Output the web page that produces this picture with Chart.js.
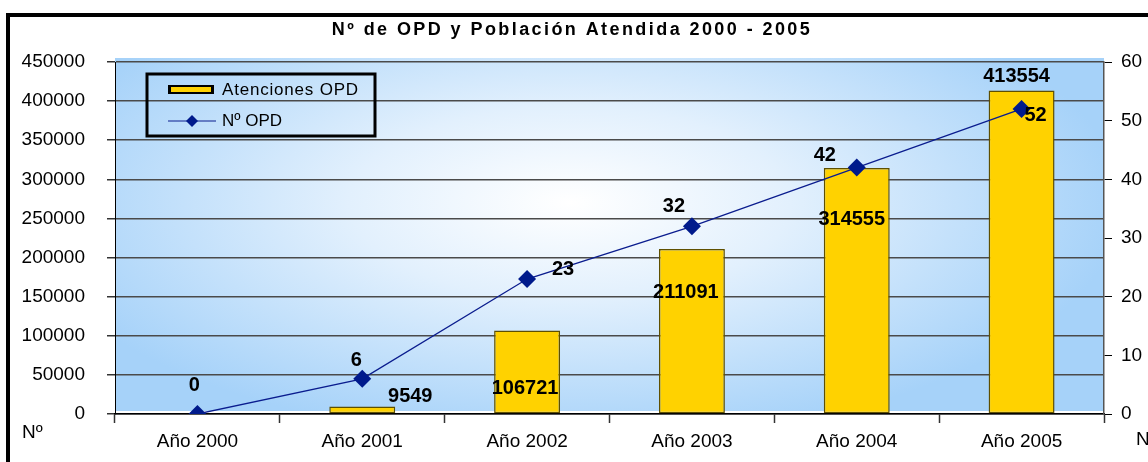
<!DOCTYPE html>
<html>
<head>
<meta charset="utf-8">
<script src="https://cdn.jsdelivr.net/npm/chart.js@4.4.1/dist/chart.umd.min.js"></script>
<style>
  html, body { margin: 0; padding: 0; background: #fff; }
  #wrap { position: absolute; left: 0; top: 0; width: 1148px; height: 462px; }
</style>
</head>
<body>
<div id="wrap"><canvas id="grafico_opd" width="1148" height="462"></canvas></div>
<script>
// Datos del gráfico
const anos = ['Año 2000', 'Año 2001', 'Año 2002', 'Año 2003', 'Año 2004', 'Año 2005'];
const atenciones = [0, 9549, 106721, 211091, 314555, 413554];
const numOpd = [0, 6, 23, 32, 42, 52];
const ticksIzq = [0, 50000, 100000, 150000, 200000, 250000, 300000, 350000, 400000, 450000];
const ticksDer = [0, 10, 20, 30, 40, 50, 60];

// desplazamiento de las etiquetas respecto a cada marca (en px)
const etqBarras = [null, [48, -10], [-2, 58], [-6, 44], [-5, 52], [-5, -14]];
const etqLinea = [[-3, -29], [-6, -18], [36, -10], [-18, -20], [-32, -12], [14, 7]];

const FUENTE = '"Liberation Sans", Arial, sans-serif';

// Fondo del área de trazado (degradado azul) y marco
const fondoPlugin = {
    id: 'fondo',
    beforeDraw(chart) {
        const { ctx, chartArea: a } = chart;
        ctx.save();
        ctx.fillStyle = '#fff';
        ctx.fillRect(0, 0, chart.width, chart.height);
        const cx = a.left + (a.right - a.left) * 0.46;
        const cy = a.top + (a.bottom - a.top) * 0.40;
        ctx.translate(cx, cy);
        ctx.scale(2.3, 1);
        const g = ctx.createRadialGradient(0, 0, 0, 0, 0, 240);
        g.addColorStop(0, '#ffffff');
        g.addColorStop(0.4, '#e2f0fd');
        g.addColorStop(1, '#a6d2f9');
        ctx.fillStyle = g;
        // deja una franja blanca fina sobre el eje horizontal
        ctx.fillRect((a.left - cx) / 2.3, a.top - 4 - cy, (a.right - a.left) / 2.3, a.bottom - a.top + 1);
        ctx.restore();

        // marco negro
        ctx.save();
        ctx.fillStyle = '#000';
        ctx.fillRect(6, 13, 4, chart.height - 13);
        ctx.fillRect(6, 13, chart.width - 6, 4);
        ctx.restore();
    },
    afterDraw(chart) {
        const { ctx } = chart;
        ctx.save();
        // título
        ctx.fillStyle = '#000';
        ctx.font = 'bold 18px ' + FUENTE;
        ctx.textAlign = 'center';
        ctx.textBaseline = 'middle';
        const titulo = 'Nº de OPD y Población Atendida 2000 - 2005';
        const w = ctx.measureText(titulo).width;
        ctx.letterSpacing = Math.max(0, (478 - w) / (titulo.length - 1)) + 'px';
        ctx.fillText(titulo, 572, 30);
        ctx.letterSpacing = '0px';

        // textos "Nº" de los ejes
        ctx.font = '19px ' + FUENTE;
        ctx.textAlign = 'left';
        ctx.fillText('Nº', 22, 433);
        ctx.fillText('Nº', 1136, 440);

        // leyenda
        const bx = 147, by = 74, bw = 228, bh = 62;
        ctx.strokeStyle = '#000';
        ctx.lineWidth = 3;
        ctx.strokeRect(bx, by, bw, bh);
        const dsB = chart.data.datasets[0];
        const dsL = chart.data.datasets[1];
        ctx.fillStyle = '#000';
        ctx.fillRect(168, 85, 46, 9);
        ctx.fillStyle = dsB.backgroundColor;
        ctx.fillRect(171, 87, 40, 5);
        ctx.strokeStyle = dsL.borderColor;
        ctx.lineWidth = 1;
        ctx.beginPath();
        ctx.moveTo(168, 121);
        ctx.lineTo(216, 121);
        ctx.stroke();
        ctx.fillStyle = dsL.pointBackgroundColor;
        ctx.beginPath();
        ctx.moveTo(192, 115);
        ctx.lineTo(198, 121);
        ctx.lineTo(192, 127);
        ctx.lineTo(186, 121);
        ctx.closePath();
        ctx.fill();
        ctx.fillStyle = '#000';
        ctx.font = '17px ' + FUENTE;
        ctx.textBaseline = 'middle';
        ctx.letterSpacing = '0.8px';
        ctx.fillText(dsB.label, 222, 90);
        ctx.letterSpacing = '0px';
        ctx.fillText(dsL.label, 222, 121);
        ctx.restore();
    }
};

// Etiquetas de datos
const etiquetasPlugin = {
    id: 'etiquetas',
    afterDatasetsDraw(chart) {
        const { ctx } = chart;
        ctx.save();
        ctx.fillStyle = '#000';
        ctx.font = 'bold 20px ' + FUENTE;
        ctx.textAlign = 'center';
        ctx.textBaseline = 'middle';
        chart.getDatasetMeta(0).data.forEach((el, i) => {
            const o = etqBarras[i];
            if (!o) return;
            ctx.fillText(String(atenciones[i]), el.x + o[0], el.y + o[1]);
        });
        chart.getDatasetMeta(1).data.forEach((el, i) => {
            const o = etqLinea[i];
            ctx.fillText(String(numOpd[i]), el.x + o[0], el.y + o[1]);
        });
        ctx.restore();
    }
};

const ctx = document.getElementById('grafico_opd').getContext('2d');

new Chart(ctx, {
    type: 'bar',
    data: {
        labels: anos,
        datasets: [{
            label: 'Atenciones OPD',
            data: atenciones,
            backgroundColor: '#ffd200',
            borderColor: '#5e4f00',
            borderWidth: 1.5,
            borderSkipped: false,
            categoryPercentage: 1,
            barPercentage: 0.4,
            yAxisID: 'y',
            order: 2
        }, {
            type: 'line',
            label: 'Nº OPD',
            data: numOpd,
            borderColor: '#0a1c8e',
            borderWidth: 1.3,
            pointStyle: 'rectRot',
            pointRadius: 9,
            pointBackgroundColor: '#001a8c',
            pointBorderColor: '#001a8c',
            pointBorderWidth: 0,
            tension: 0,
            yAxisID: 'y1',
            order: 1
        }]
    },
    options: {
        responsive: false,
        animation: false,
        layout: { padding: { top: 62, left: 0, right: 0, bottom: 0 } },
        plugins: {
            legend: { display: false },
            title: { display: false },
            tooltip: { enabled: false }
        },
        scales: {
            x: {
                offset: true,
                grid: { offset: true, drawOnChartArea: false, tickLength: 9, color: '#333', tickWidth: 1.5 },
                border: { color: '#000', width: 1.5 },
                ticks: { color: '#000', font: { family: FUENTE, size: 19 }, padding: 7, maxRotation: 0, autoSkip: false },
                afterFit(s) { s.height = 48; }
            },
            y: {
                position: 'left',
                min: 0,
                max: 450000,
                afterBuildTicks(s) { s.ticks = ticksIzq.map(v => ({ value: v })); },
                grid: { color: '#4a4a4a', lineWidth: 1.5, tickLength: 8, tickColor: '#333' },
                border: { color: '#000', width: 1 },
                ticks: { color: '#000', font: { family: FUENTE, size: 19 }, padding: 22, autoSkip: false, callback: v => String(v) },
                afterFit(s) { s.width = 115; }
            },
            y1: {
                position: 'right',
                min: 0,
                max: 60,
                afterBuildTicks(s) { s.ticks = ticksDer.map(v => ({ value: v })); },
                grid: { drawOnChartArea: false, tickLength: 8, color: '#000' },
                border: { color: '#555', width: 1.5 },
                ticks: { color: '#000', font: { family: FUENTE, size: 19 }, padding: 9, autoSkip: false, callback: v => String(v) },
                afterFit(s) { s.width = 44; }
            }
        }
    },
    plugins: [fondoPlugin, etiquetasPlugin]
});
</script>
</body>
</html>
